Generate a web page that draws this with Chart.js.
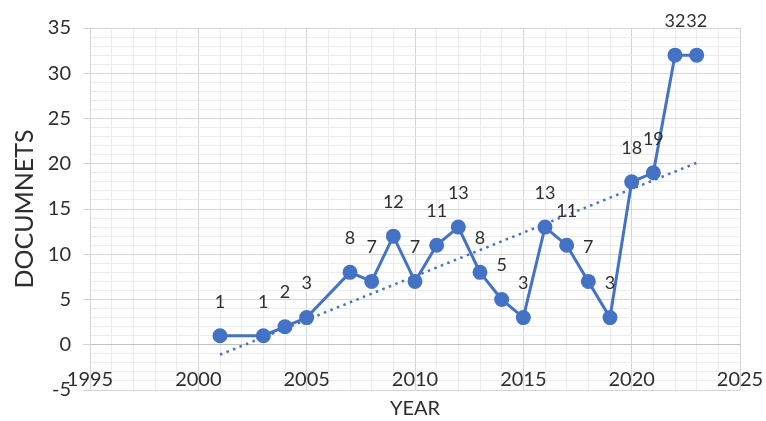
<!DOCTYPE html>
<html>
<head>
<meta charset="utf-8">
<script src="https://cdn.jsdelivr.net/npm/chart.js@4/dist/chart.umd.min.js"></script>
<style>
  html, body { margin: 0; padding: 0; background: #ffffff; }
  #wrap { width: 766px; height: 421px; }
</style>
</head>
<body>
<div id="wrap"><canvas id="chart" width="766" height="421"></canvas></div>
<script>
// Documents published per year
const years = [2001, 2003, 2004, 2005, 2007, 2008, 2009, 2010, 2011, 2012, 2013,
               2014, 2015, 2016, 2017, 2018, 2019, 2020, 2021, 2022, 2023];
const documents = [1, 1, 2, 3, 8, 7, 12, 7, 11, 13, 8,
                   5, 3, 13, 11, 7, 3, 18, 19, 32, 32];

// Linear trend line end points
const trendYears = [2001, 2023];
const trendValues = [-1.1, 20.1];

// Axis ranges and labelled tick spacing
const xRange = [1995, 2025];
const yRange = [-5, 35];
const labelStep = 5;

const BLUE = '#4472C4';
const TEXT = '#2e2e2e';
const MAJOR = '#d4d4d4';
const MINOR = '#ececec';

const isMajor = v => Math.abs(v % labelStep) < 1e-9;

// Draws each point's value above it
const valueLabels = {
  id: 'valueLabels',
  afterDatasetsDraw(chart) {
    const meta = chart.getDatasetMeta(0);
    const ctx = chart.ctx;
    ctx.save();
    ctx.font = '18px Lato';
    ctx.fillStyle = TEXT;
    ctx.textAlign = 'center';
    ctx.textBaseline = 'middle';
    meta.data.forEach((pt, i) => {
      ctx.fillText(String(documents[i]), pt.x, pt.y - 34);
    });
    ctx.restore();
  }
};

new Chart(document.getElementById('chart'), {
  type: 'line',
  data: {
    datasets: [
      {
        label: 'Documents',
        data: years.map((y, i) => ({ x: y, y: documents[i] })),
        borderColor: BLUE,
        backgroundColor: BLUE,
        borderWidth: 3,
        pointRadius: 6,
        pointHoverRadius: 6,
        pointBackgroundColor: BLUE,
        pointBorderColor: BLUE,
        tension: 0
      },
      {
        label: 'Linear trend',
        data: trendYears.map((y, i) => ({ x: y, y: trendValues[i] })),
        borderColor: BLUE,
        borderWidth: 2.5,
        borderDash: [2.5, 4.5],
        pointRadius: 0,
        tension: 0
      }
    ]
  },
  options: {
    responsive: false,
    animation: false,
    devicePixelRatio: 1,
    layout: { padding: { top: 28, right: 26, left: 0, bottom: 0 } },
    plugins: {
      legend: { display: false },
      tooltip: { enabled: false },
      title: {
        display: true,
        position: 'bottom',
        fullSize: false,
        text: 'YEAR',
        color: TEXT,
        font: { family: 'Lato', size: 20, weight: 'normal' },
        padding: { top: 7, bottom: 0 }
      }
    },
    scales: {
      x: {
        type: 'linear',
        position: { y: 0 },
        min: xRange[0],
        max: xRange[1],
        afterFit: s => { s.height = 0; s.paddingLeft = 0; s.paddingRight = 0; },
        ticks: {
          stepSize: 1,
          autoSkip: false,
          maxRotation: 0,
          padding: 23,
          color: TEXT,
          font: { family: 'Lato', size: 20 },
          callback: v => (isMajor(v) ? String(v) : '')
        },
        grid: {
          drawTicks: false,
          color: c => (isMajor(c.tick.value) ? MAJOR : MINOR),
          lineWidth: 1
        },
        border: { display: true, color: '#c0c0c0', width: 1 }
      },
      y: {
        type: 'linear',
        min: yRange[0],
        max: yRange[1],
        afterFit: s => { s.width = 90; },
        title: {
          display: true,
          text: 'DOCUMNETS',
          color: TEXT,
          font: { family: 'Lato', size: 25, weight: 'normal' },
          padding: { top: 10, bottom: 0 }
        },
        ticks: {
          stepSize: 1,
          autoSkip: false,
          padding: 12,
          color: TEXT,
          font: { family: 'Lato', size: 20 },
          callback: v => (isMajor(v) ? String(v) : '')
        },
        grid: {
          tickLength: 7,
          color: c => (isMajor(c.tick.value) ? MAJOR : MINOR),
          tickColor: c => (isMajor(c.tick.value) ? MAJOR : 'rgba(0,0,0,0)'),
          lineWidth: 1
        },
        border: { display: true, color: MAJOR, width: 1 }
      }
    }
  },
  plugins: [valueLabels]
});
</script>
</body>
</html>
